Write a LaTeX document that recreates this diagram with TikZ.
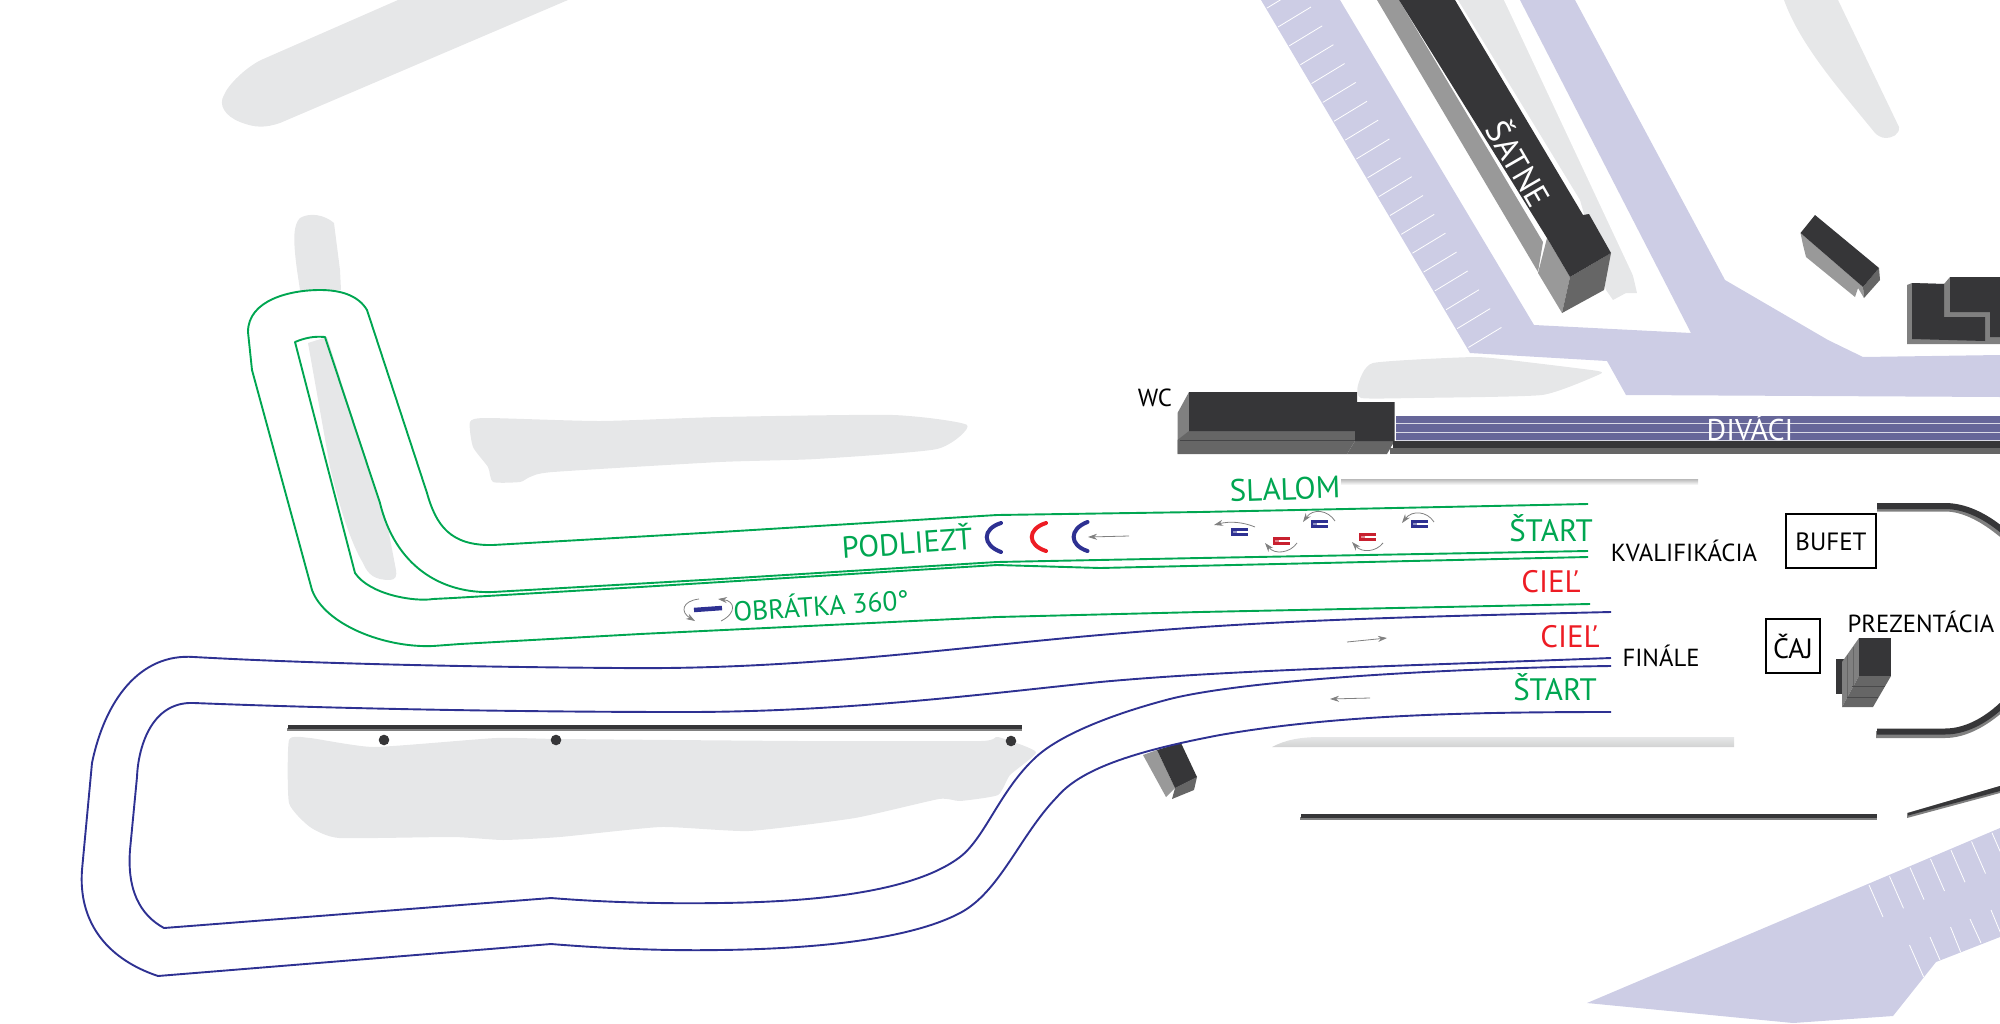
\documentclass[tikz,border=0pt]{standalone}
\usepackage{fontspec}
\setmainfont{PT Sans}
\usetikzlibrary{arrows.meta}
\definecolor{dk}{HTML}{363638}
\definecolor{gsix}{HTML}{666666}
\definecolor{gei}{HTML}{808080}
\definecolor{gni}{HTML}{999999}
\definecolor{lav}{HTML}{CDCDE5}
\definecolor{bandc}{HTML}{666699}
\definecolor{blobc}{HTML}{E6E7E8}
\definecolor{tgreen}{HTML}{00A651}
\definecolor{tblue}{HTML}{2E3192}
\definecolor{tred}{HTML}{ED1C24}
\definecolor{gred}{HTML}{C8202F}
\newcommand{\gatemark}[3]{\begin{scope}[shift={(#1,#2)}]
 \fill[#3] (-8.5,-4) rectangle (8.5,4);
 \fill[white] (-2,-1.3) rectangle (8.6,1.3);
 \fill[#3!55!white] (-6.5,-1.3) rectangle (-2,1.3);
\end{scope}}
\newcommand{\fs}[1]{\fontsize{#1}{#1}\selectfont}
\tikzset{
 blob/.style={fill=blobc},
 gline/.style={draw=tgreen,line width=1.9pt,line join=round},
 bline/.style={draw=tblue,line width=1.9pt,line join=round},
 garrow/.style={draw=gei,line width=0.8pt,-{Stealth[length=9pt,width=6pt]}},
 gatearc/.style={line width=4pt,line cap=round},
 lbl/.style={inner sep=0pt,outer sep=0pt,align=center},
 greenlbl/.style={lbl,text=tgreen,font=\fs{31}},
 redlbl/.style={lbl,text=tred,font=\fs{31}},
 blacklbl/.style={lbl,text=black,font=\fs{24.7}},
 boxlbl/.style={lbl,draw=black,line width=2pt,text=black,font=\fs{25}},
}
\begin{document}
\begin{tikzpicture}[x=1pt,y=-1pt]
\useasboundingbox (0,0) rectangle (2000,1023);
\clip (0,0) rectangle (2000,1023);
% --- background blobs
\fill[blob] (398,0) -- (568,0) -- (280,123) .. controls (265,128) and (255,128) .. (240,122) .. controls (225,116) and (218,105) .. (224,95) .. controls (228,85) and (245,68) .. (261,60) -- cycle;
\fill[blob] (297,270) .. controls (293,240) and (293,225) .. (300,218) .. controls (310,212) and (325,215) .. (334,223) -- (340,270) -- (341,290) -- (300,290) -- cycle;
\fill[blob] (308,343) -- (330,467) .. controls (340,510) and (352,545) .. (363,563) .. controls (368,575) and (375,580) .. (390,580) .. controls (396,580) and (397,575) .. (396,570) -- (387,523) -- (380,503) -- (327,337) -- cycle;
\fill[blob] plot[smooth cycle,tension=0.35] coordinates {(470,422)(487,418)(600,421)(720,417)(893,415)(967,425)(937,449)(816,459)(720,462)(553,472)(530,477)(520,482)(493,482)(488,467)(473,447)};
\fill[blob] plot[smooth cycle,tension=0.3] coordinates {(289,740)(310,738)(374,747)(496,738)(560,739)(800,741)(981,741)(998,737)(1036,752)(1010,775)(998,795)(960,801)(939,799)(855,818)(749,831)(661,827)(560,837)(503,840)(453,837)(339,838)(310,827)(289,803)};
\fill[blob] plot[smooth cycle,tension=0.3] coordinates {(1373,363)(1475,357)(1526,362)(1598,371)(1598,375)(1542,395)(1414,398)(1361,398)(1358,385)};
\fill[blob] (1784,0) -- (1838,0) -- (1899,127) .. controls (1900,135) and (1891,138) .. (1886,138) .. controls (1881,138) and (1877,135) .. (1875,133) .. controls (1840,90) and (1800,45) .. cycle;
\fill[blob] (1458,0) -- (1504,0) -- (1557,100) -- (1608,207) -- (1631,267) -- (1637,293) -- (1626,293) -- (1613,300) -- (1606,290) -- (1580,200) -- cycle;
\fill[white] (1504,0) -- (1520,0) -- (1691,333) -- (1660,333) -- cycle;
% --- lavender areas
\fill[lav] (1261,0) -- (1340,0) -- (1534,325) -- (1691,333) -- (1520,0) -- (1575,0) -- (1725,280) -- (1828,340) -- (1863,357) -- (2000,355) -- (2000,397) -- (1626,395) -- (1607,361) -- (1470,353) -- cycle;
\foreach \i in {-1,0,...,17} {
 \draw[white,line width=0.8pt] ({1278+11.2*\i},{27+18.85*\i}) -- ++(33,-20);
}
\fill[lav] (1587,1003) -- (1793,1023) -- (1893,1016) -- (1936,962) -- (2000,937) -- (2000,828) -- cycle;
\foreach \i in {0,...,6} {
 \draw[white,line width=0.8pt] ({1869+20.5*\i},{885-8.7*\i}) -- ++(14,32);
}
\draw[white,line width=0.8pt] (1909.5,945) -- (1923.6,977);
\draw[white,line width=0.8pt] (1930,937) -- (1940,960);
\draw[white,line width=0.8pt] (1950.5,927) -- (1960.6,952);
\draw[white,line width=0.8pt] (1970,919) -- (1981,943);
\draw[white,line width=0.8pt] (1991,910) -- (2001,934);
% --- SATNE building
\fill[gni] (1377,0) -- (1399,0) -- (1543,242) -- (1538,272) -- cycle;
\fill[gni] (1547,238) -- (1570,277) -- (1562,313) -- (1538,273) -- cycle;
\fill[gsix] (1570,277) -- (1611,253) -- (1604,290) -- (1562,313) -- cycle;
\fill[dk] (1399,0) -- (1455,0) -- (1583,215) -- (1589,214) -- (1611,253) -- (1570,277) -- (1547,238) -- cycle;
\node[lbl,text=white,font=\fs{33},rotate=-60] (satne) at (1520,163) {ŠATNE};
% --- small buildings top right
\fill[gni] (1800.5,233) -- (1863,287) -- (1864,298) -- (1858,288) -- (1855,297) -- (1806,257) -- (1803,245) -- cycle;
\fill[gsix] (1863,287) -- (1879,268) -- (1880,280) -- (1864,298) -- cycle;
\fill[dk] (1815,215) -- (1879,268) -- (1863,287) -- (1800.5,233) -- cycle;
\fill[gei] (1907,285) -- (1912,283) -- (1944,284) -- (1950,277) -- (2000,277) -- (2000,344) -- (1907,344) -- cycle;
\fill[dk] (1950,277) -- (2000,277) -- (2000,337) -- (1990,337) -- (1990,312) -- (1950,312) -- cycle;
\fill[dk] (1912,283) -- (1944,284) -- (1944,317) -- (1985,317) -- (1985,341) -- (1912,339) -- cycle;
% --- WC + DIVACI
\fill[gei] (1177.5,454) -- (1177.5,413) -- (1189,392) -- (1189,431) -- cycle;
\fill[gsix] (1189,431) -- (1355,431) -- (1355,441) -- (1347,454) -- (1177.5,454) -- (1177.5,440) -- cycle;
\draw[dk!70!gsix,line width=0.6pt] (1180,440) -- (1355,440);
\fill[gsix] (1355,441) -- (1394.5,441) -- (1387,454) -- (1347,454) -- cycle;
\fill[dk] (1189,392) -- (1357,392) -- (1357,402) -- (1394.5,402) -- (1394.5,441) -- (1355,441) -- (1355,431) -- (1189,431) -- cycle;
\fill[bandc] (1396,416) rectangle (2000,441);
\foreach \yy in {423,432,440} {\draw[white!75!bandc,line width=0.8pt] (1396,\yy) -- (2000,\yy);}
\fill[dk] (1393,441) rectangle (2000,448);
\fill[gsix] (1390,448) rectangle (2000,454);
\node[lbl,text=white,font=\fs{30}] (divaci) at (1750,428) {DIVÁCI};
% --- pale gradient bars
\shade[top color=gray!55,bottom color=white] (1341,479) rectangle (1698,485);
\shade[top color=blobc,bottom color=gray!35] (1272,747) .. controls (1285,740) and (1300,737) .. (1320,737) -- (1734,737) -- (1734,747) -- cycle;
% --- walls
\fill[gei] (287,728) rectangle (1022,730.5);
\fill[dk] (288,725) rectangle (1022,728.5);
\fill[gei] (1300,817) rectangle (1877,819.5);
\fill[dk] (1301,814) rectangle (1877,817.5);
\fill[gei] (1907,818) -- (1907,813) -- (2000,786) -- (2000,793) -- cycle;
\fill[dk] (1908,813) -- (2000,786) -- (2000,791) -- (1908,815.5) -- cycle;
\foreach \dx/\dy in {384/740,556/740,1011/741} {\fill[dk] (\dx,\dy) circle[radius=5.3];}
% --- horseshoe
\draw[gei,line width=7pt] (1877,508) -- (1945,508) .. controls (1965,508) and (1985,520) .. (2002,534);
\draw[dk,line width=6pt] (1877,506) -- (1945,506) .. controls (1965,506) and (1985,516) .. (2002,530);
\draw[gei,line width=7pt] (1876,734.5) -- (1945,734.5) .. controls (1965,734.5) and (1985,723) .. (2002,708);
\draw[dk,line width=6pt] (1877,731.5) -- (1945,731.5) .. controls (1965,731.5) and (1985,721) .. (2002,705);
% --- prezentacia building
\fill[dk] (1836,659) rectangle (1847,694);
\fill[gei] (1842,662) -- (1859,638) -- (1859,676) -- (1842,707) -- cycle;
\fill[gsix] (1859,676) -- (1891,676) -- (1873,707) -- (1842,707) -- cycle;
\draw[gsix,line width=0.6pt] (1847,655) -- (1847,699) (1853,647) -- (1853,687);
\draw[dk!60!gsix,line width=0.6pt] (1852,686) -- (1885,686) (1847,697) -- (1878,697);
\fill[dk] (1859,638) rectangle (1891,676);
% --- building under the track
\fill[gni] (1143,755) -- (1157,750) -- (1175,788) -- (1166,797) -- cycle;
\fill[gsix] (1175,788) -- (1197,777) -- (1194,790) -- (1172,799) -- cycle;
\fill[dk] (1157,750) -- (1181,743) -- (1197,777) -- (1175,788) -- cycle;
% --- green track
\draw[gline] (1588,504) -- (1200,512) -- (997,515) -- (720,532) -- (493,545) .. controls (450,546) and (436,525) .. (427,493) -- (367,310) .. controls (358,295) and (340,290) .. (320,290) .. controls (290,290) and (248,300) .. (248,332) -- (252,370) -- (312,590) .. controls (325,625) and (385,648) .. (433,646) -- (460,644) -- (640,634) -- (997,617) -- (1200,612) -- (1590,604);
\draw[gline] (1588,551) -- (1200,558) -- (997,562) -- (720,579) -- (493,592) .. controls (440,594) and (395,565) .. (380,503) -- (325,337) .. controls (313,336) and (305,338) .. (295,342) -- (355,573) .. controls (370,595) and (415,602) .. (433,599) -- (453,598) -- (640,587) -- (997,565) -- (1100,568) -- (1588,557);
% --- blue track
\draw[bline] (1611,612) .. controls (1350,618) and (1250,622) .. (1100,635) .. controls (950,648) and (800,670) .. (620,668) .. controls (480,667) and (320,664) .. (194,657) .. controls (140,653) and (105,700) .. (92,763) -- (82,870) .. controls (78,925) and (110,960) .. (158,976) -- (551,944) .. controls (600,948) and (660,951) .. (720,950) .. controls (800,949) and (905,942) .. (960,913) .. controls (1000,892) and (1020,835) .. (1057,797) .. controls (1080,770) and (1130,752) .. (1220,735) .. controls (1330,716) and (1450,712) .. (1611,712);
\draw[bline] (1611,658) .. controls (1400,666) and (1230,670) .. (1100,682) .. controls (1000,692) and (850,712) .. (686,712) .. controls (500,712) and (320,708) .. (194,703) .. controls (150,701) and (138,750) .. (137,777) -- (130,850) .. controls (127,890) and (140,915) .. (164,928) -- (551,898) .. controls (600,902) and (660,904) .. (720,903) .. controls (800,902) and (910,895) .. (960,857) .. controls (985,838) and (1000,790) .. (1036,757) .. controls (1060,735) and (1110,715) .. (1166,700) .. controls (1240,680) and (1450,668) .. (1611,666);
% --- course marks
\gatemark{1239}{532}{tblue}
\gatemark{1281}{541}{gred}
\gatemark{1319}{524}{tblue}
\gatemark{1367}{537}{gred}
\gatemark{1419}{524}{tblue}
\draw[garrow] (1255,527) .. controls (1243,522) and (1230,521) .. (1214,525);
\draw[garrow] (1297,543) .. controls (1290,553) and (1275,555) .. (1265,543);
\draw[garrow] (1335,521) .. controls (1328,510) and (1313,508) .. (1303,522);
\draw[garrow] (1383,543) .. controls (1376,552) and (1362,553) .. (1352,542);
\draw[garrow] (1434,522) .. controls (1427,511) and (1412,510) .. (1402,523);
\draw[tblue,gatearc] (1001,523) .. controls (982,529) and (982,545) .. (1001,552);
\draw[tred,gatearc] (1046,523) .. controls (1027,529) and (1027,545) .. (1046,551);
\draw[tblue,gatearc] (1087.5,522) .. controls (1069,529) and (1069,545) .. (1087.5,551);
\draw[garrow] (1129,536) -- (1088,537);
\draw[tblue,line width=4.5pt] (694,610) -- (722,608);
\draw[garrow] (699,599) .. controls (682,601) and (680,612) .. (695,621);
\draw[garrow] (721,621) .. controls (737,613) and (735,601) .. (718,599);
\draw[garrow] (1347,642) -- (1387,638);
\draw[garrow] (1370,698) -- (1330,699);
% --- labels
\node[greenlbl,rotate=2] (slalom) at (1285,489) {SLALOM};
\node[greenlbl] (start1) at (1551,528) {ŠTART};
\node[redlbl] (ciel1) at (1551,582) {CIEĽ};
\node[redlbl] (ciel2) at (1570,637) {CIEĽ};
\node[greenlbl] (start2) at (1555,687) {ŠTART};
\node[greenlbl,rotate=4,font=\fs{30.5}] (podliezt) at (907,541) {PODLIEZŤ};
\node[greenlbl,rotate=4,font=\fs{27.5}] (obratka) at (821,604) {OBRÁTKA 360°};
\node[blacklbl] (kval) at (1684,551) {KVALIFIKÁCIA};
\node[blacklbl] (finale) at (1661,656) {FINÁLE};
\node[blacklbl] (wc) at (1155,398) {WC};
\node[blacklbl] (prez) at (1921,622) {PREZENTÁCIA};
\node[boxlbl,text height=18pt,text depth=0pt,minimum width=90pt,minimum height=54pt] (bufet) at (1831,541) {BUFET};
\node[boxlbl,font=\fs{28},minimum width=54pt,minimum height=54pt] (caj) at (1793,646) {ČAJ};
\end{tikzpicture}
\end{document}
